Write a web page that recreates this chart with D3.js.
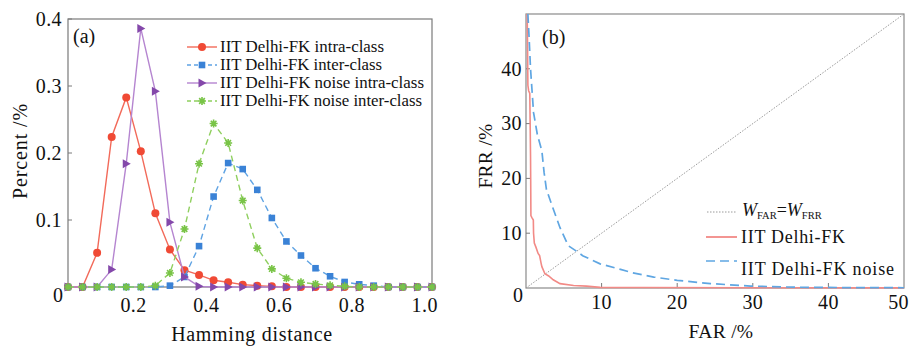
<!DOCTYPE html>
<html>
<head>
<meta charset="utf-8">
<script src="https://cdn.jsdelivr.net/npm/d3@7"></script>
<style>
  body { margin: 0; background: #fff; }
  svg { display: block; }
  text { fill: #111; }
</style>
</head>
<body>
<div id="chart"></div>
<script>
// ---------- panel (a) data: hamming distance distributions ----------
var hamming = [0.02,0.06,0.10,0.14,0.18,0.22,0.26,0.30,0.34,0.38,0.42,0.46,0.50,
               0.54,0.58,0.62,0.66,0.70,0.74,0.78,0.82,0.86,0.90,0.94,0.98,1.02]
var intraFK = [0,0,0.051,0.224,0.283,0.2025,0.110,0.056,0.025,0.018,0.010,0.007,0.0035,
               0.002,0.001,0,0,0,0,0,0,0,0,0,0,0]
var interFK = [0,0,0,0,0,0,0,0.002,0.015,0.061,0.135,0.185,0.176,
               0.145,0.103,0.068,0.047,0.028,0.016,0.0075,0.004,0.002,0,0,0,0]
var intraNoise = [0,0,0,0.026,0.184,0.386,0.292,0.0965,0.015,0.001,0,0,0,
                  0,0,0,0,0,0,0,0,0,0,0,0,0]
var interNoise = [0,0,0,0,0,0,0.002,0.021,0.0865,0.184,0.244,0.215,0.129,
                  0.058,0.027,0.013,0.007,0.0045,0.0025,0.001,0,0,0,0,0,0]
var seriesNamesA = ['IIT Delhi-FK intra-class','IIT Delhi-FK inter-class',
                    'IIT Delhi-FK noise intra-class','IIT Delhi-FK noise inter-class']
var xTicksA = [0.2,0.4,0.6,0.8,1.0]
var yTicksA = [0.1,0.2,0.3,0.4]

// ---------- panel (b) data: FAR / FRR curves ----------
var farFK = [0.15,0.2,0.25,0.35,0.5,0.55,0.6,0.62,0.65,0.8,0.97,1.0,1.1,1.3,1.6,1.8,2.0,2.1,
             2.5,3.0,3.6,4.5,6.3,8.0,9.8,15,30,50]
var frrFK = [50,45,37,36,35.5,30,24,20,13.2,12.8,12.4,10,8.2,7.5,6.3,5.9,4.5,3.9,
             2.6,2.2,1.5,0.8,0.45,0.35,0.12,0.08,0.05,0.03]
var farNoise = [0.25,0.4,0.6,0.8,1.0,1.5,2.1,2.4,2.7,3.4,4.5,5.6,6.7,7.5,9.8,12.5,14,16.9,
                20,24.4,29.7,35.4,42,50]
var frrNoise = [50,46,40,36,32,28,25,21,18,15.2,11,7.7,6.7,5.9,4.4,3.4,2.8,2.0,
                1.4,0.8,0.35,0.15,0.08,0.05]
var eer = [0,50]
var xTicksB = [10,20,30,40,50]
var yTicksB = [10,20,30,40]

var serif = '"Liberation Serif", "Times New Roman", serif'

var svg = d3.select('#chart').append('svg')
  .attr('width', 910)
  .attr('height', 346)
  .attr('font-family', serif)

// ======================= panel (a) =======================
var xa = d3.scaleLinear().domain([0.02, 1.02]).range([68, 432])
var ya = d3.scaleLinear().domain([0, 0.4]).range([287, 19])
var ga = svg.append('g')

ga.append('rect')
  .attr('x', 68).attr('y', 19)
  .attr('width', 364).attr('height', 268)
  .attr('fill', 'none').attr('stroke', '#7a7a7a').attr('stroke-width', 1.2)

ga.selectAll('.ytick').data(yTicksA).enter().append('line')
  .attr('x1', 68).attr('x2', 72)
  .attr('y1', function(d){ return ya(d)}).attr('y2', function(d){ return ya(d)})
  .attr('stroke', '#7a7a7a')
ga.selectAll('.ylab').data(yTicksA).enter().append('text')
  .attr('x', 62).attr('y', function(d){ return ya(d)})
  .attr('dy', '0.34em').attr('text-anchor', 'end')
  .attr('font-size', 20).attr('letter-spacing', 0.4)
  .text(function(d){ return d3.format('.1f')(d)})
ga.selectAll('.xlab').data(xTicksA).enter().append('text')
  .attr('x', function(d){ return xa(d)}).attr('y', 312)
  .attr('text-anchor', 'middle').attr('font-size', 20).attr('letter-spacing', 0.4)
  .text(function(d){ return d3.format('.1f')(d)})
ga.append('text').attr('x', 63).attr('y', 302).attr('text-anchor', 'end')
  .attr('font-size', 20).text('0')

ga.append('text').attr('x', 252).attr('y', 341).attr('text-anchor', 'middle')
  .attr('font-size', 20).attr('letter-spacing', 0.7).text('Hamming distance')
ga.append('text').attr('transform', 'translate(27,151) rotate(-90)')
  .attr('text-anchor', 'middle').attr('font-size', 20).attr('letter-spacing', 0.9)
  .text('Percent /%')
ga.append('text').attr('x', 73).attr('y', 43).attr('font-size', 20).text('(a)')

var seriesA = [
  {name: seriesNamesA[0], values: intraFK, line: '#f26a5a', mark: '#f04a35', dash: null, shape: 'circle', w: 164},
  {name: seriesNamesA[1], values: interFK, line: '#5fa3e3', mark: '#3a82d6', dash: '6,4', shape: 'square', w: 162},
  {name: seriesNamesA[2], values: intraNoise, line: '#b585d0', mark: '#8448aa', dash: null, shape: 'triangle', w: 204},
  {name: seriesNamesA[3], values: interNoise, line: '#8fcf5e', mark: '#79c447', dash: '6,4', shape: 'star', w: 202}
]

function drawMarker(g, shape, color, x, y) {
  if (shape === 'circle') {
    g.append('circle').attr('cx', x).attr('cy', y).attr('r', 4).attr('fill', color)
  } else if (shape === 'square') {
    g.append('rect').attr('x', x - 3.3).attr('y', y - 3.3)
      .attr('width', 6.6).attr('height', 6.6).attr('fill', color)
  } else if (shape === 'triangle') {
    g.append('path').attr('d', 'M' + (x - 3.5) + ',' + (y - 4.5) + 'L' + (x + 4.5) + ',' + y +
      'L' + (x - 3.5) + ',' + (y + 4.5) + 'Z').attr('fill', color)
  } else {
    var r = 4
    var d = ''
    for (var k = 0; k < 4; k++) {
      var ang = Math.PI / 4 * k
      d += 'M' + (x - r * Math.cos(ang)) + ',' + (y - r * Math.sin(ang)) +
           'L' + (x + r * Math.cos(ang)) + ',' + (y + r * Math.sin(ang))
    }
    g.append('path').attr('d', d).attr('stroke', color).attr('stroke-width', 1.6)
    g.append('circle').attr('cx', x).attr('cy', y).attr('r', 2).attr('fill', color)
  }
}

var lineA = d3.line()
  .x(function(d, i){ return xa(hamming[i])})
  .y(function(d){ return ya(d)})

seriesA.forEach(function(s){
  var g = ga.append('g')
  g.append('path').attr('d', lineA(s.values))
    .attr('fill', 'none').attr('stroke', s.line).attr('stroke-width', 1.4)
    .attr('stroke-dasharray', s.dash)
  s.values.forEach(function(v, i){
    drawMarker(g, s.shape, s.mark, xa(hamming[i]), ya(v))
  })
})

// legend (a)
var legA = ga.append('g')
seriesA.forEach(function(s, i){
  var yy = 47 + i * 18
  legA.append('line').attr('x1', 187).attr('x2', 217).attr('y1', yy).attr('y2', yy)
    .attr('stroke', s.line).attr('stroke-width', 1.4).attr('stroke-dasharray', s.dash ? '4,3' : null)
  drawMarker(legA, s.shape, s.mark, 202, yy)
  legA.append('text').attr('x', 220).attr('y', yy + 5)
    .attr('font-size', 16)
    .attr('textLength', s.w).attr('lengthAdjust', 'spacingAndGlyphs')
    .text(s.name)
})

// ======================= panel (b) =======================
var xb = d3.scaleLinear().domain([0, 50]).range([526, 904])
var yb = d3.scaleLinear().domain([0, 50]).range([288, 14])
var gb = svg.append('g')

gb.append('rect')
  .attr('x', 526).attr('y', 14)
  .attr('width', 378).attr('height', 274)
  .attr('fill', 'none').attr('stroke', '#8a8a8a').attr('stroke-width', 1.2)

gb.selectAll('.ytick').data(yTicksB).enter().append('line')
  .attr('x1', 526).attr('x2', 530)
  .attr('y1', function(d){ return yb(d)}).attr('y2', function(d){ return yb(d)})
  .attr('stroke', '#7a7a7a')
gb.selectAll('.xtick').data(xTicksB.slice(0, 4)).enter().append('line')
  .attr('x1', function(d){ return xb(d)}).attr('x2', function(d){ return xb(d)})
  .attr('y1', 288).attr('y2', 283)
  .attr('stroke', '#7a7a7a')
gb.selectAll('.ylab').data(yTicksB).enter().append('text')
  .attr('x', 522).attr('y', function(d){ return yb(d)})
  .attr('dy', '0.34em').attr('text-anchor', 'end').attr('font-size', 20).attr('letter-spacing', 0.4)
  .text(function(d){ return d})
gb.selectAll('.xlab').data(xTicksB).enter().append('text')
  .attr('x', function(d){ return d === 50 ? 909 : xb(d)}).attr('y', 309)
  .attr('text-anchor', function(d){ return d === 50 ? 'end' : 'middle'})
  .attr('font-size', 20).attr('letter-spacing', 0.4)
  .text(function(d){ return d})
gb.append('text').attr('x', 523).attr('y', 302).attr('text-anchor', 'end')
  .attr('font-size', 20).text('0')

gb.append('text').attr('x', 721).attr('y', 338).attr('text-anchor', 'middle')
  .attr('font-size', 19.5).attr('letter-spacing', 0.3).text('FAR /%')
gb.append('text').attr('transform', 'translate(492,156) rotate(-90)')
  .attr('text-anchor', 'middle').attr('font-size', 19.5).attr('letter-spacing', 0.3).text('FRR /%')
gb.append('text').attr('x', 542).attr('y', 44).attr('font-size', 20).text('(b)')

var lineB = d3.line()
  .x(function(d){ return xb(d[0])})
  .y(function(d){ return yb(d[1])})

gb.append('path').attr('d', lineB(eer.map(function(v){ return [v, v]})))
  .attr('fill', 'none').attr('stroke', '#9a9a9a').attr('stroke-width', 1)
  .attr('stroke-dasharray', '1.5,1.5')
gb.append('path').attr('d', lineB(farFK.map(function(v, i){ return [v, frrFK[i]]})))
  .attr('fill', 'none').attr('stroke', '#f28a86').attr('stroke-width', 1.6)
gb.append('path').attr('d', lineB(farNoise.map(function(v, i){ return [v, frrNoise[i]]})))
  .attr('fill', 'none').attr('stroke', '#5fa6e2').attr('stroke-width', 1.7)
  .attr('stroke-dasharray', '9,5')

// legend (b)
gb.append('line').attr('x1', 707).attr('x2', 737).attr('y1', 212).attr('y2', 212)
  .attr('stroke', '#9a9a9a').attr('stroke-dasharray', '1.5,1.5')
var eq = gb.append('text').attr('x', 742).attr('y', 216).attr('font-size', 18)
eq.append('tspan').attr('font-style', 'italic').text('W')
eq.append('tspan').attr('font-size', 10.5).attr('dy', 3).text('FAR')
eq.append('tspan').attr('dy', -3).text('=')
eq.append('tspan').attr('font-style', 'italic').text('W')
eq.append('tspan').attr('font-size', 10.5).attr('dy', 3).text('FRR')

gb.append('line').attr('x1', 706).attr('x2', 737).attr('y1', 237).attr('y2', 237)
  .attr('stroke', '#f28a86').attr('stroke-width', 1.8)
gb.append('text').attr('x', 741).attr('y', 243).attr('font-size', 18)
  .attr('textLength', 104).attr('lengthAdjust', 'spacing').text('IIT Delhi-FK')

gb.append('line').attr('x1', 706).attr('x2', 737).attr('y1', 261).attr('y2', 261)
  .attr('stroke', '#5fa6e2').attr('stroke-width', 1.7).attr('stroke-dasharray', '9,5')
gb.append('text').attr('x', 741).attr('y', 275).attr('font-size', 18)
  .attr('textLength', 153).attr('lengthAdjust', 'spacing').text('IIT Delhi-FK noise')
</script>
</body>
</html>
